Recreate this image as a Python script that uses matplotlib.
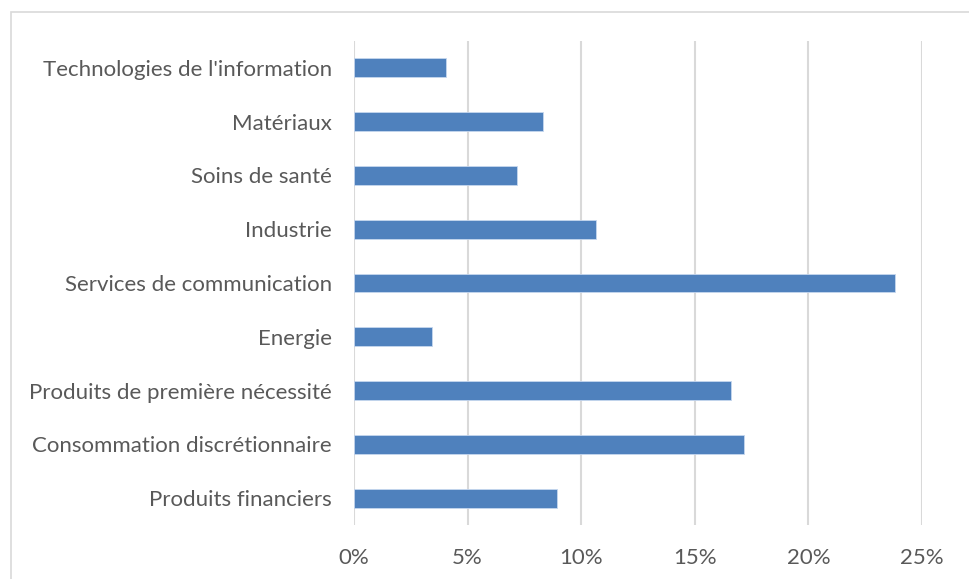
import matplotlib
matplotlib.use('Agg')
import matplotlib.pyplot as plt
from matplotlib.patches import Rectangle
from matplotlib.ticker import PercentFormatter

# sectors, top to bottom as shown
sectors = ["Technologies de l'information", "Matériaux", "Soins de santé",
           "Industrie", "Services de communication", "Energie",
           "Produits de première nécessité", "Consommation discrétionnaire",
           "Produits financiers"]
weights = [4.04, 8.33, 7.19, 10.64, 23.80, 3.42, 16.61, 17.17, 8.92]

plt.rcParams['font.family'] = ['Lato', 'DejaVu Sans']

W, H = 970, 579
fig = plt.figure(figsize=(W / 100, H / 100), dpi=100)
ax = fig.add_axes([354 / W, 1 - 525 / H, (922 - 354) / W, (525 - 41) / H])

# outer chart frame (cut off at right/bottom)
fig.patches.append(Rectangle((11.5 / W, -0.1), 1.2, 1 - 11.5 / H + 0.1,
                             transform=fig.transFigure, fill=False,
                             edgecolor='#d9d9d9', linewidth=1.2))

y = list(range(len(sectors)))[::-1]
ax.barh(y, weights, height=0.35, color='#4f81bd', edgecolor='#c6d7ee',
        linewidth=0.6, zorder=3)

ax.set_xlim(0, 25)
ax.set_ylim(-0.5, len(sectors) - 0.5)
ax.set_xticks(range(0, 26, 5))
ax.xaxis.set_major_formatter(PercentFormatter(decimals=0))
ax.set_yticks(y)
ax.set_yticklabels(sectors)
ax.grid(axis='x', color='#d9d9d9', linewidth=1.5, zorder=0)
for s in ax.spines.values():
    s.set_visible(False)
ax.tick_params(axis='both', length=0, labelsize=16, labelcolor='#595959')
ax.tick_params(axis='y', pad=16)
ax.tick_params(axis='x', pad=16.5)

fig.savefig('out.png', dpi=100)
